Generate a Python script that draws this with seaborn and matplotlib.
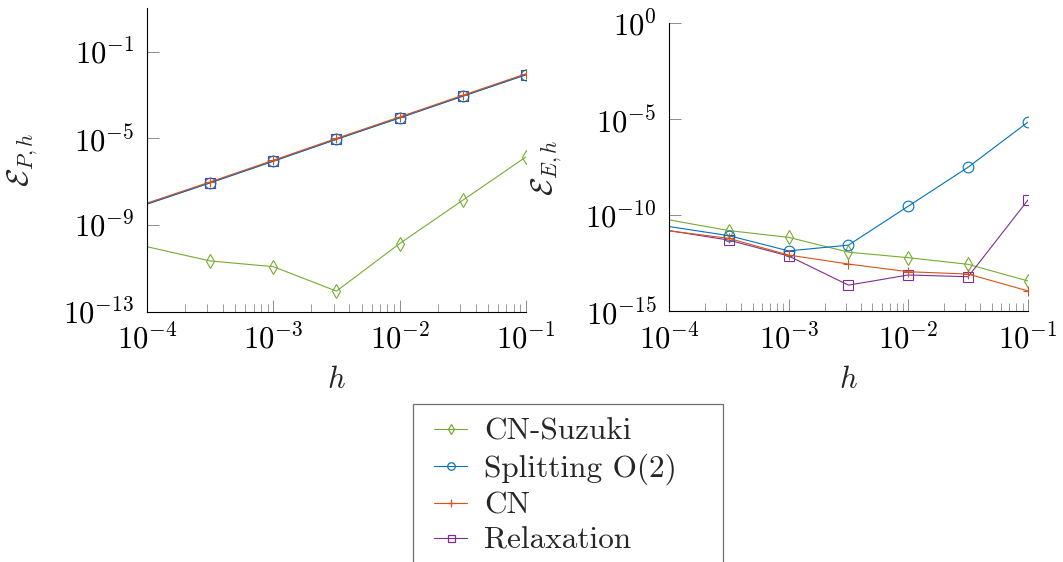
import numpy as np
import pandas as pd
import matplotlib
matplotlib.use("Agg")
import matplotlib.pyplot as plt
import seaborn as sns
from matplotlib.lines import Line2D
from matplotlib.legend_handler import HandlerLine2D
from matplotlib.ticker import NullLocator, LogLocator

# step sizes h (first point is the left edge, drawn without marker)
h = [1e-4, 3.16e-4, 1e-3, 3.16e-3, 1e-2, 3.16e-2, 1e-1]

labels = ["CN-Suzuki", "Splitting O(2)", "CN", "Relaxation"]
colors = ["#77AC30", "#0072BD", "#D95319", "#7E2F8E"]
markers = ["d", "o", "+", "s"]
msizes = [7.5, 7.7, 7.5, 7.2]

# error E_{P,h}
err_p_suzuki = [1.0e-10, 2.2e-11, 1.2e-11, 8.9e-13, 1.4e-10, 1.4e-8, 1.4e-6]
err_p_split = [9.3e-9, 8.9e-8, 8.9e-7, 9.1e-6, 8.9e-5, 8.9e-4, 8.7e-3]
err_p_cn = [1.03e-8, 9.8e-8, 9.8e-7, 1.0e-5, 9.8e-5, 9.8e-4, 9.6e-3]
err_p_relax = [9.3e-9, 8.9e-8, 8.9e-7, 9.1e-6, 8.9e-5, 8.9e-4, 8.7e-3]

# error E_{E,h}
err_e_suzuki = [5.8e-11, 1.6e-11, 7.1e-12, 1.2e-12, 6.2e-13, 2.8e-13, 3.8e-14]
err_e_split = [2.6e-11, 8.7e-12, 1.4e-12, 2.8e-12, 3.0e-10, 3.2e-8, 7.2e-6]
err_e_cn = [1.55e-11, 6.3e-12, 8.5e-13, 2.9e-13, 1.15e-13, 8.7e-14, 1.15e-14]
err_e_relax = [1.6e-11, 5.1e-12, 7.6e-13, 2.3e-14, 7.8e-14, 6.3e-14, 6.3e-10]

sns.set_style("white")
plt.rcParams["font.family"] = ["cmr10", "DejaVu Serif"]
plt.rcParams["mathtext.fontset"] = "cm"
plt.rcParams["axes.formatter.use_mathtext"] = True
plt.rcParams["axes.unicode_minus"] = True

FS = 22
LEG_FS = 22.5

fig = plt.figure(figsize=(10.63, 5.62), dpi=100)
W, H = 1063, 562
ax1 = fig.add_axes([147 / W, 1 - 311.7 / H, 379 / W, 303.3 / H])
ax2 = fig.add_axes([669 / W, 1 - 311.3 / H, 359 / W, 288 / H])

series_p = [err_p_suzuki, err_p_split, err_p_cn, err_p_relax]
series_e = [err_e_suzuki, err_e_split, err_e_cn, err_e_relax]
draw_order = [0, 3, 1, 2]


def draw(ax, series):
    for i in draw_order:
        df = pd.DataFrame({"h": h, "err": series[i]})
        sns.lineplot(data=df, x="h", y="err", ax=ax, color=colors[i],
                     marker=markers[i], markersize=msizes[i], mfc="none",
                     mec=colors[i], mew=0.8, lw=0.8,
                     markevery=slice(1, None), sort=False)


draw(ax1, series_p)
draw(ax2, series_e)

for ax in (ax1, ax2):
    ax.set_xscale("log")
    ax.set_yscale("log")
    ax.set_xlim(1e-4, 1e-1)
    ax.set_xticks([1e-4, 1e-3, 1e-2, 1e-1])
    ax.xaxis.set_minor_locator(LogLocator(base=10, subs=np.arange(2, 10)))
    for side in ("top", "right"):
        ax.spines[side].set_visible(False)
    for side in ("left", "bottom"):
        ax.spines[side].set_color("black")
        ax.spines[side].set_linewidth(0.8)
    ax.tick_params(which="major", direction="in", length=8.5, width=0.7,
                   color="0.55", labelsize=FS, pad=9, labelcolor="black",
                   bottom=True, left=True)
    ax.tick_params(which="minor", direction="in", length=5.5, width=0.6,
                   color="0.55", bottom=True, left=True)
    ax.set_xlabel("$h$", fontsize=FS)
    ax.grid(False)

ax1.set_ylim(1e-13, 1e1)
ax1.set_yticks([1e-13, 1e-9, 1e-5, 1e-1])
ax1.yaxis.set_minor_locator(NullLocator())
ax2.set_ylim(1e-15, 1e0)
ax2.set_yticks([1e-15, 1e-10, 1e-5, 1e0])
ax2.yaxis.set_minor_locator(NullLocator())

ax1.set_ylabel(r"$\mathcal{E}_{P,h}$", fontsize=FS)
ax2.set_ylabel(r"$\mathcal{E}_{E,h}$", fontsize=FS)
ax1.yaxis.set_label_coords((40 - 147) / 379, 0.5)
ax2.yaxis.set_label_coords((564 - 669) / 359, 0.5)
ax1.xaxis.set_label_coords(0.5, (311.7 - 367) / 303.3)
ax2.xaxis.set_label_coords(0.5, (311.3 - 367) / 288)

for ax in (ax1, ax2):
    if ax.get_legend() is not None:
        ax.get_legend().remove()

handles = [Line2D([], [], color=colors[i], marker=markers[i],
                  markersize=msizes[i] * 0.7, mfc="none", mec=colors[i],
                  mew=0.9, lw=0.8) for i in range(4)]
fs_px = LEG_FS * 100 / 72
bpad = 0.45
# shift handles right so they start ~21 px inside the frame
xpad = (21 - bpad * fs_px) / fs_px
leg = fig.legend(handles, labels, loc="upper left",
                 bbox_to_anchor=(413 / W, 0, 310 / W, 1 - 404 / H),
                 mode="expand", fontsize=LEG_FS, frameon=True, fancybox=False,
                 edgecolor="0.3", borderpad=bpad, borderaxespad=0,
                 handlelength=xpad + 33 / fs_px,
                 handletextpad=(486 - 467) / fs_px - 0.05,
                 labelspacing=0.23,
                 handler_map={Line2D: HandlerLine2D(xpad=xpad)})
leg.get_frame().set_linewidth(0.9)

fig.savefig("out.png", dpi=100)
